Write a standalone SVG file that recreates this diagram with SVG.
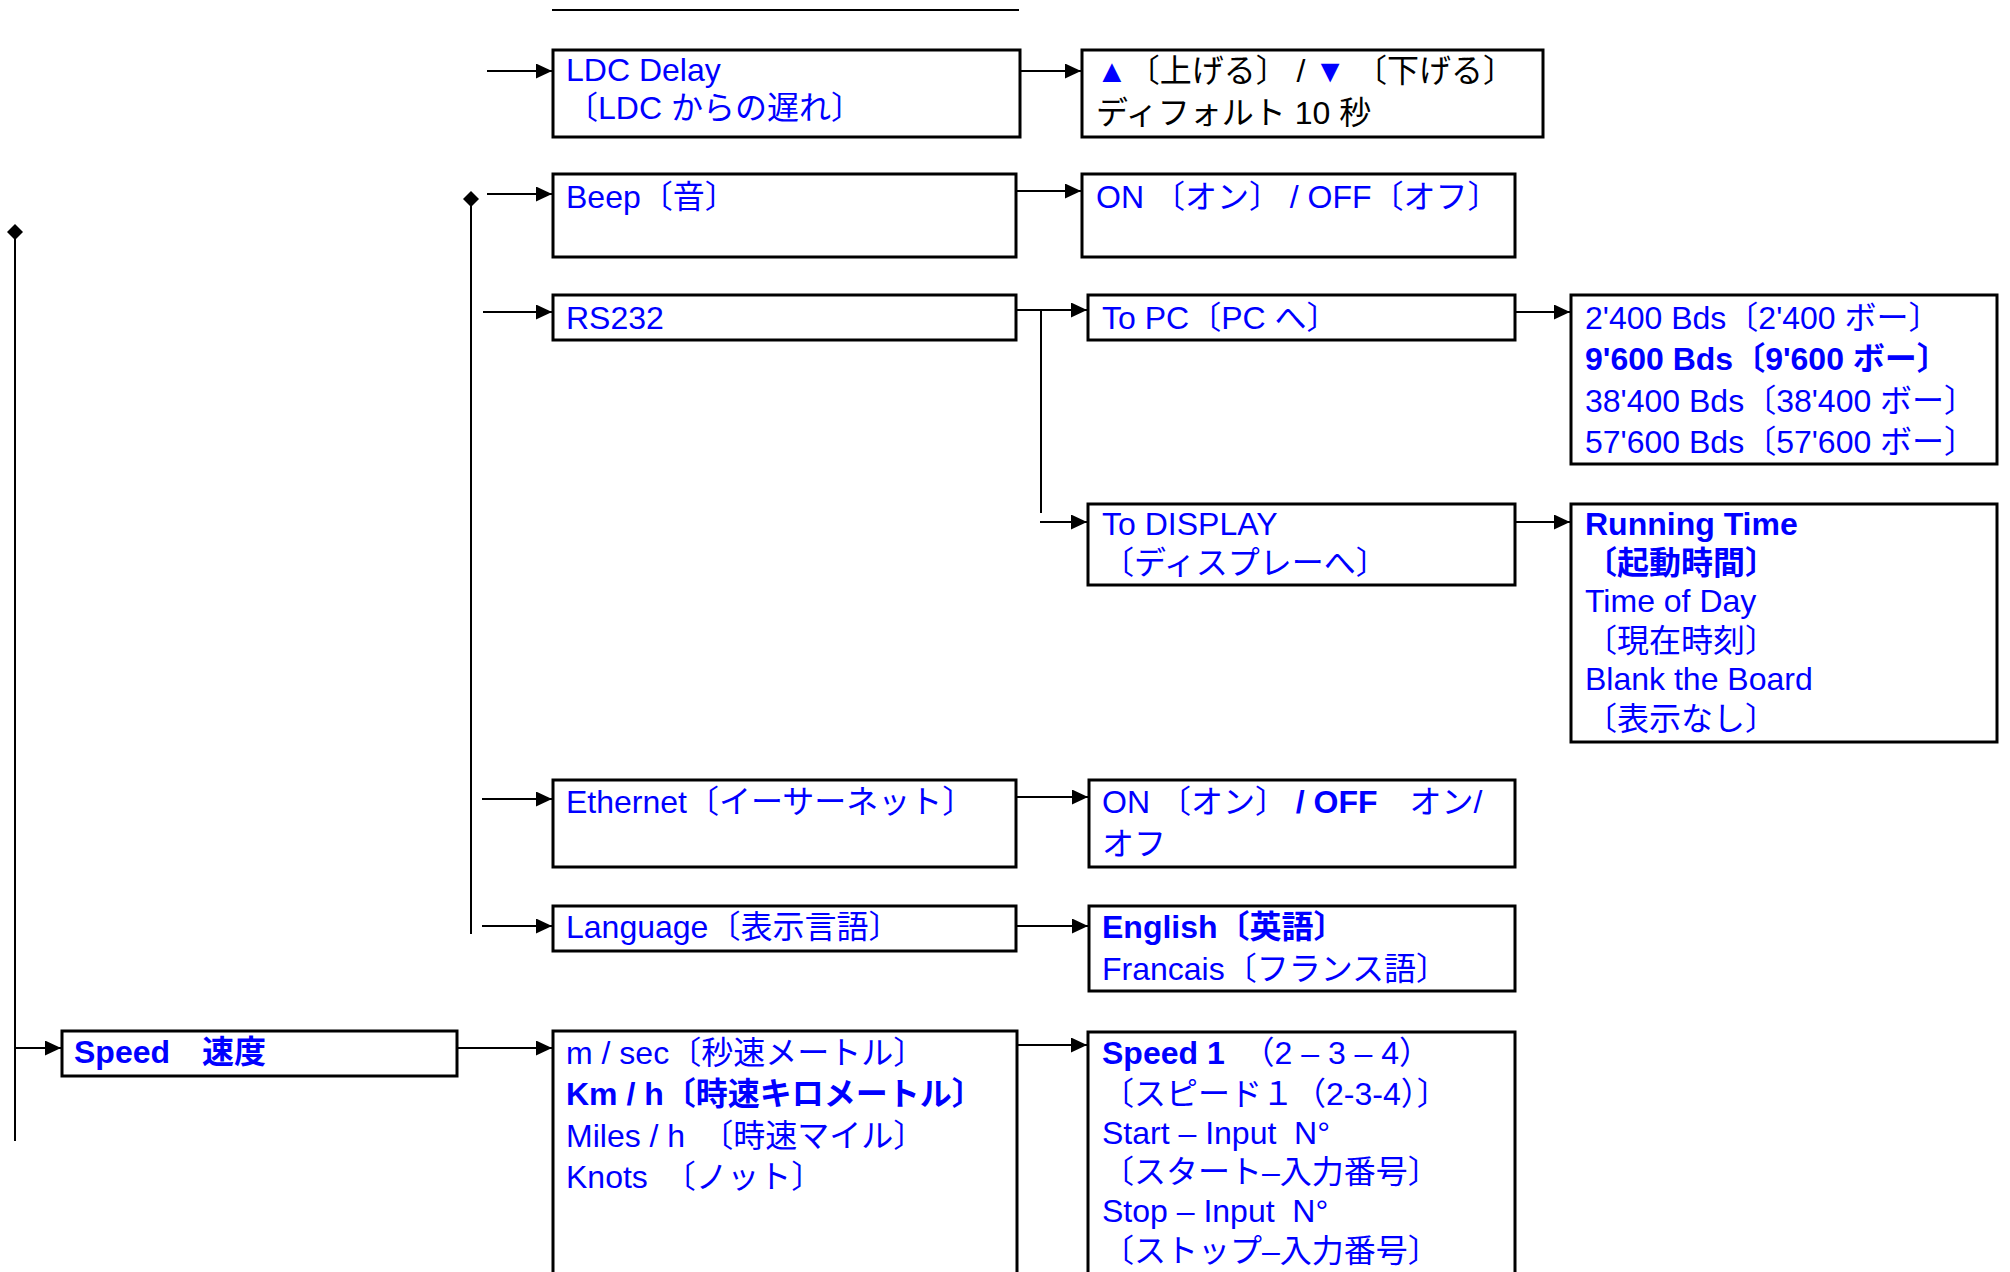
<svg xmlns="http://www.w3.org/2000/svg" width="2010" height="1272" viewBox="0 0 2010 1272">
<style>
.box{fill:#fff;stroke:#000;stroke-width:3}
.t{font-family:"Liberation Sans","Noto Sans CJK JP",sans-serif;font-size:32px;fill:#00f}
.b{font-weight:bold}
.k{fill:#000}
.c{stroke:#000;stroke-width:2;fill:none}
</style>
<defs>
<marker id="ah" markerUnits="userSpaceOnUse" markerWidth="16" markerHeight="15" refX="16" refY="7.5" orient="auto"><path d="M0,0L16,7.5L0,15z" fill="#000"/></marker>
</defs>
<g id="connectors">
<line class="c" x1="552" y1="10" x2="1019" y2="10" stroke-width="2.5"/>
<polygon points="15,224 23,232 15,240 7,232" fill="#000"/>
<line class="c" x1="15" y1="232" x2="15" y2="1141"/>
<line class="c" x1="15" y1="1048" x2="61" y2="1048" marker-end="url(#ah)"/>
<polygon points="471,191 479,199 471,207 463,199" fill="#000"/>
<line class="c" x1="471" y1="199" x2="471" y2="934"/>
<line class="c" x1="487" y1="71" x2="552" y2="71" marker-end="url(#ah)"/>
<line class="c" x1="487" y1="194" x2="552" y2="194" marker-end="url(#ah)"/>
<line class="c" x1="483" y1="312" x2="552" y2="312" marker-end="url(#ah)"/>
<line class="c" x1="482" y1="799" x2="552" y2="799" marker-end="url(#ah)"/>
<line class="c" x1="482" y1="926" x2="552" y2="926" marker-end="url(#ah)"/>
<line class="c" x1="1020" y1="71" x2="1081" y2="71" marker-end="url(#ah)"/>
<line class="c" x1="1016" y1="191" x2="1081" y2="191" marker-end="url(#ah)"/>
<line class="c" x1="1016" y1="310" x2="1087" y2="310" marker-end="url(#ah)"/>
<line class="c" x1="1041" y1="310" x2="1041" y2="513"/>
<line class="c" x1="1040" y1="522" x2="1087" y2="522" marker-end="url(#ah)"/>
<line class="c" x1="1515" y1="312" x2="1570" y2="312" marker-end="url(#ah)"/>
<line class="c" x1="1515" y1="522" x2="1570" y2="522" marker-end="url(#ah)"/>
<line class="c" x1="1016" y1="797" x2="1088" y2="797" marker-end="url(#ah)"/>
<line class="c" x1="1016" y1="926" x2="1088" y2="926" marker-end="url(#ah)"/>
<line class="c" x1="457" y1="1048" x2="552" y2="1048" marker-end="url(#ah)"/>
<line class="c" x1="1017" y1="1045" x2="1087" y2="1045" marker-end="url(#ah)"/>
</g>
<g id="ldc-delay">
<rect class="box" x="553" y="50" width="467" height="87"/>
<text class="t" x="566" y="81">LDC Delay</text>
<text class="t" x="566" y="119">〔LDC からの遅れ〕</text>
</g>
<g id="ldc-options">
<rect class="box" x="1082" y="50" width="461" height="87"/>
<text class="t" x="1096" y="82">▲<tspan class="k">〔上げる〕 / </tspan>▼<tspan class="k"> 〔下げる〕</tspan></text>
<text class="t k" x="1096" y="124">ディフォルト 10 秒</text>
</g>
<g id="beep">
<rect class="box" x="553" y="174" width="463" height="83"/>
<text class="t" x="566" y="208">Beep〔音〕</text>
</g>
<g id="beep-options">
<rect class="box" x="1082" y="174" width="433" height="83"/>
<text class="t" x="1096" y="208">ON 〔オン〕 / OFF〔オフ〕</text>
</g>
<g id="rs232">
<rect class="box" x="553" y="295" width="463" height="45"/>
<text class="t" x="566" y="329">RS232</text>
</g>
<g id="to-pc">
<rect class="box" x="1088" y="295" width="427" height="45"/>
<text class="t" x="1102" y="329">To PC〔PC へ〕</text>
</g>
<g id="baud-rates">
<rect class="box" x="1571" y="295" width="426" height="169"/>
<text class="t" x="1585" y="329">2'400 Bds〔2'400 ボー〕</text>
<text class="t b" x="1585" y="370">9'600 Bds〔9'600 ボー〕</text>
<text class="t" x="1585" y="412">38'400 Bds〔38'400 ボー〕</text>
<text class="t" x="1585" y="453">57'600 Bds〔57'600 ボー〕</text>
</g>
<g id="to-display">
<rect class="box" x="1088" y="504" width="427" height="81"/>
<text class="t" x="1102" y="535">To DISPLAY</text>
<text class="t" x="1102" y="574">〔ディスプレーへ〕</text>
</g>
<g id="display-options">
<rect class="box" x="1571" y="504" width="426" height="238"/>
<text class="t b" x="1585" y="535">Running Time</text>
<text class="t b" x="1585" y="574">〔起動時間〕</text>
<text class="t" x="1585" y="612">Time of Day</text>
<text class="t" x="1585" y="652">〔現在時刻〕</text>
<text class="t" x="1585" y="690">Blank the Board</text>
<text class="t" x="1585" y="730">〔表示なし〕</text>
</g>
<g id="ethernet">
<rect class="box" x="553" y="780" width="463" height="87"/>
<text class="t" x="566" y="813">Ethernet〔イーサーネット〕</text>
</g>
<g id="ethernet-options">
<rect class="box" x="1089" y="780" width="426" height="87"/>
<text class="t" x="1102" y="813">ON 〔オン〕 <tspan class="b">/ OFF</tspan>　オン/</text>
<text class="t" x="1102" y="855">オフ</text>
</g>
<g id="language">
<rect class="box" x="553" y="906" width="463" height="45"/>
<text class="t" x="566" y="938">Language〔表示言語〕</text>
</g>
<g id="language-options">
<rect class="box" x="1089" y="906" width="426" height="85"/>
<text class="t b" x="1102" y="938">English〔英語〕</text>
<text class="t" x="1102" y="980">Francais〔フランス語〕</text>
</g>
<g id="speed">
<rect class="box" x="62" y="1031" width="395" height="45"/>
<text class="t b" x="74" y="1063">Speed　速度</text>
</g>
<g id="speed-units">
<rect class="box" x="553" y="1031" width="464" height="270"/>
<text class="t" x="566" y="1064">m / sec〔秒速メートル〕</text>
<text class="t b" x="566" y="1105">Km / h〔時速キロメートル〕</text>
<text class="t" x="566" y="1147">Miles / h　〔時速マイル〕</text>
<text class="t" x="566" y="1188">Knots　〔ノット〕</text>
</g>
<g id="speed-inputs">
<rect class="box" x="1088" y="1032" width="427" height="270"/>
<text class="t" x="1102" y="1064" xml:space="preserve"><tspan class="b">Speed 1</tspan>  （2 – 3 – 4）</text>
<text class="t" x="1102" y="1105">〔スピード１（2-3-4）〕</text>
<text class="t" x="1102" y="1144" xml:space="preserve">Start – Input  N°</text>
<text class="t" x="1102" y="1183">〔スタート–入力番号〕</text>
<text class="t" x="1102" y="1222" xml:space="preserve">Stop – Input  N°</text>
<text class="t" x="1102" y="1262">〔ストップ–入力番号〕</text>
</g>
</svg>
